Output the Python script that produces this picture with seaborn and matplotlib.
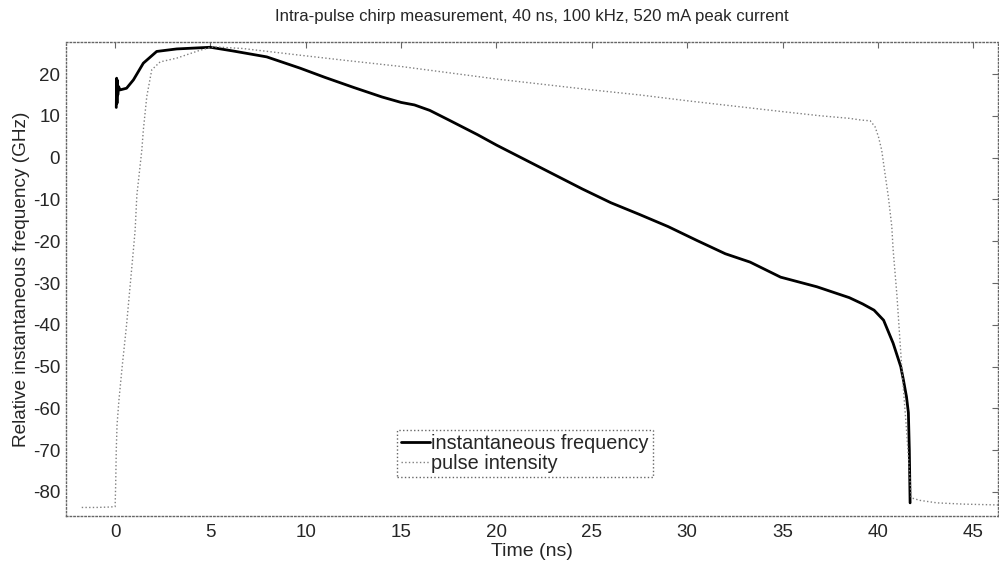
import pandas as pd
import matplotlib
matplotlib.use("Agg")
import matplotlib.pyplot as plt
import seaborn as sns

# instantaneous frequency (GHz) vs time (ns)
chirp_t = [0.06, 0.08, 0.10, 0.12, 0.14, 0.18, 0.26, 0.6, 0.96, 1.48, 2.18, 3.23,
           5.0, 6.2, 7.95, 9.7, 11, 12.5, 14, 15, 15.7, 16.5, 17.5, 19, 20, 21.5,
           23, 24.5, 26, 27.5, 29, 30.5, 32, 33.3, 34.9, 36.8, 38.5, 39.2, 39.8,
           40.3, 40.8, 41.2, 41.34, 41.5, 41.6, 41.65, 41.69]
chirp_f = [12, 19, 13, 18.5, 15, 17, 16.2, 16.6, 18.6, 22.6, 25.4, 26.0,
           26.4, 25.5, 24.1, 21.4, 19.2, 16.8, 14.5, 13.2, 12.6, 11.3, 9, 5.5, 3, -0.5,
           -4, -7.5, -10.8, -13.6, -16.5, -19.8, -23, -25, -28.6, -30.9, -33.5, -35, -36.5,
           -38.9, -44.4, -50, -53.2, -57.2, -61, -70, -82.6]

# pulse intensity, scaled onto the same axis
pulse_t = [-1.75, -1.0, -0.3, 0.0, 0.03, 0.06, 0.1, 0.2, 0.37, 0.6, 0.8, 0.96,
           1.05, 1.14, 1.4, 1.48, 1.66, 1.92, 2.36, 3.23, 4.46, 5.15, 6.7, 9.7,
           12, 15, 17.5, 20, 22.5, 25, 27.5, 30, 32.5, 35, 37, 38.5, 39.1, 39.6,
           39.85, 40.03, 40.2, 40.37, 40.55, 40.73, 40.8, 41.0, 41.25, 41.5, 41.75,
           42.2, 43.1, 44.5, 46.3]
pulse_i = [-83.7, -83.7, -83.6, -83.5, -78, -70, -64, -58, -50, -40, -30, -22,
           -17.3, -9, 1.8, 6.6, 14.6, 21, 22.9, 23.8, 25.7, 26.5, 26.1, 24.5,
           23.3, 21.8, 20.3, 18.8, 17.5, 16.2, 15, 13.6, 12.3, 11, 10, 9.4, 9.0, 8.8,
           7.4, 5.0, 1.8, -3.7, -9.4, -16.5, -22, -33, -50, -65, -81.4,
           -82, -82.6, -82.9, -83.1]

xticks = [0, 5, 10, 15, 20, 25, 30, 35, 40, 45]
yticks = [-80, -70, -60, -50, -40, -30, -20, -10, 0, 10, 20]

chirp = pd.DataFrame({"t": chirp_t, "v": chirp_f})
pulse = pd.DataFrame({"t": pulse_t, "v": pulse_i})

sns.set_style("white")
plt.rcParams["font.family"] = ["Liberation Sans", "DejaVu Sans"]
plt.rcParams["axes.unicode_minus"] = False

fig = plt.figure(figsize=(9.99, 5.63), dpi=100)
ax = fig.add_axes([0.0658, 0.0835, 0.9332, 0.8419])

sns.lineplot(data=chirp, x="t", y="v", ax=ax, color="black", linewidth=2.0,
             sort=False, estimator=None, label="instantaneous frequency")
sns.lineplot(data=pulse, x="t", y="v", ax=ax, color="#808080", linewidth=1.0,
             linestyle=":", sort=False, estimator=None, label="pulse intensity")

ax.set_xlim(-2.59, 46.3)
ax.set_ylim(-85.74, 27.66)
ax.set_xticks(xticks)
ax.set_yticks(yticks)
ax.tick_params(direction="in", length=4, width=0.8, color="#666666",
               top=True, right=True, labelsize=13.5, pad=4)
ax.tick_params(axis="x", pad=6)
for s in ax.spines.values():
    s.set_linestyle(":")
    s.set_color("#666666")
    s.set_linewidth(1.0)

ax.set_title("Intra-pulse chirp measurement, 40 ns, 100 kHz, 520 mA peak current",
             fontsize=12.1, pad=15)
ax.set_xlabel("Time (ns)", fontsize=14, labelpad=1)
ax.set_ylabel("Relative instantaneous frequency (GHz)", fontsize=13.7, labelpad=2)

leg = ax.legend(loc="lower left", bbox_to_anchor=(0.355, 0.082), borderaxespad=0,
                fontsize=14.3, handlelength=1.5, handletextpad=0.05,
                borderpad=0.2, labelspacing=0.05, fancybox=False, framealpha=1)
leg.get_frame().set_edgecolor("#666666")
leg.get_frame().set_linestyle(":")
leg.get_frame().set_linewidth(1.0)

fig.savefig("out.png", dpi=100)
